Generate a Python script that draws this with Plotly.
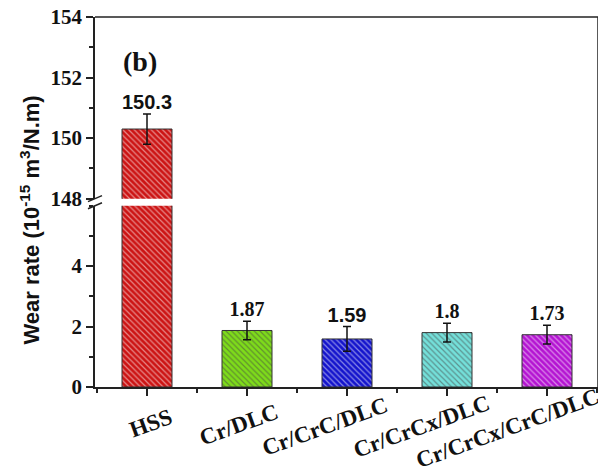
import plotly.graph_objects as go

categories = ["HSS", "Cr/DLC", "Cr/CrC/DLC", "Cr/CrCx/DLC", "Cr/CrCx/CrC/DLC"]
wear_rate = [150.3, 1.87, 1.59, 1.8, 1.73]
wear_err = [0.5, 0.31, 0.41, 0.31, 0.31]
value_labels = ["150.3", "1.87", "1.59", "1.8", "1.73"]
lower_ticks = [0, 2, 4]
upper_ticks = [148, 150, 152, 154]
lower_range = [0, 6]
upper_range = [148, 154]

fill_colors = ["#CC1414", "#7EDC1A", "#1414CC", "#74E0DA", "#B414D2"]
hatch_colors = ["#7A0000", "#3C7A00", "#00006E", "#2E8C88", "#5E0078"]
label_fonts = ["Liberation Sans", "Liberation Serif", "Liberation Sans", "Liberation Serif", "Liberation Serif"]

xs = list(range(len(categories)))

fig = go.Figure()

for xa, ya, rng in [("x", "y", lower_range), ("x2", "y2", upper_range)]:
    fig.add_trace(go.Bar(
        x=xs, y=wear_rate, width=0.5, xaxis=xa, yaxis=ya,
        marker=dict(color=fill_colors, line=dict(color="#333333", width=1),
                    pattern=dict(shape="\\", size=4, solidity=0.3,
                                 fgcolor=hatch_colors, fillmode="overlay")),
        error_y=dict(type="data", array=wear_err, visible=True,
                     color="#111111", thickness=1.5, width=4),
        showlegend=False, hoverinfo="skip",
    ))
    sel = [i for i in xs if rng[0] <= wear_rate[i] <= rng[1]]
    fig.add_trace(go.Scatter(
        x=[xs[i] for i in sel], y=[wear_rate[i] + wear_err[i] for i in sel],
        xaxis=xa, yaxis=ya,
        mode="text", text=[value_labels[i] for i in sel], textposition="top center",
        textfont=dict(family=[label_fonts[i] for i in sel], size=20, color="#111111", weight="bold"),
        cliponaxis=False, showlegend=False, hoverinfo="skip",
    ))

axis_common = dict(showline=True, linecolor="#222222", linewidth=1.5,
                   ticks="outside", ticklen=7, tickwidth=1.5, tickcolor="#222222",
                   showgrid=False, zeroline=False, automargin=False)

tick_font = dict(family="Liberation Serif", size=21, color="#111111", weight="bold")

fig.update_layout(
    width=598, height=462,
    margin=dict(l=87, r=8, t=9, b=83),
    paper_bgcolor="white", plot_bgcolor="white",
    xaxis=dict(axis_common, range=[-0.52, 4.51], anchor="y", tickvals=xs,
               showticklabels=False,
               minor=dict(tick0=0.5, dtick=1, ticks="outside", ticklen=4,
                          tickwidth=1.5, tickcolor="#222222")),
    xaxis2=dict(range=[-0.52, 4.51], anchor="y2", matches="x", showticklabels=False,
                showline=False, ticks="", showgrid=False, zeroline=False),
    yaxis=dict(axis_common, domain=[0, 0.49], range=lower_range, tickvals=lower_ticks,
               tickfont=tick_font, ticklabeloverflow="allow",
               minor=dict(dtick=1, ticks="outside", ticklen=4, tickwidth=1.5,
                          tickcolor="#222222")),
    yaxis2=dict(axis_common, domain=[0.509, 1], range=upper_range, tickvals=upper_ticks,
                tickfont=tick_font, ticklabeloverflow="allow",
                minor=dict(dtick=1, ticks="outside", ticklen=4, tickwidth=1.5,
                           tickcolor="#222222")),
)

# frame: top and right lines
fig.add_shape(type="line", xref="paper", yref="paper", x0=0, x1=1, y0=1, y1=1,
              line=dict(color="#222222", width=1.5))
fig.add_shape(type="line", xref="paper", yref="paper", x0=1, x1=1, y0=0, y1=1,
              line=dict(color="#222222", width=1.5))

# axis break marks
for yb in [0.509, 0.49]:
    fig.add_shape(type="line", xref="paper", yref="paper",
                  xsizemode="pixel", xanchor=0, x0=-7, x1=7,
                  ysizemode="pixel", yanchor=yb, y0=-3, y1=3,
                  line=dict(color="#222222", width=1.5))

# rotated category labels
for i, lab in enumerate(categories):
    fig.add_annotation(x=i, y=0, xref="x", yref="paper", text=lab,
                       showarrow=False, textangle=-20,
                       xanchor="center", yanchor="middle",
                       xshift=-3.6 * len(lab) + 14, yshift=-35 - 0.4 * len(lab),
                       font=dict(family="Liberation Serif", size=23, color="#111111", weight="bold"))

# y-axis title
fig.add_annotation(text="Wear rate (10<sup>-15</sup> m<sup>3</sup>/N.m)",
                   xref="paper", yref="paper", x=-0.131, y=0.45,
                   showarrow=False, textangle=-90, xanchor="center", yanchor="middle",
                   font=dict(family="Liberation Sans", size=22, color="#111111", weight="bold"))

# panel label
fig.add_annotation(text="(b)", xref="paper", yref="paper", x=0.09, y=0.88,
                   showarrow=False, xanchor="center", yanchor="middle",
                   font=dict(family="Liberation Serif", size=28, color="#111111", weight="bold"))

fig.write_html("out.html")
